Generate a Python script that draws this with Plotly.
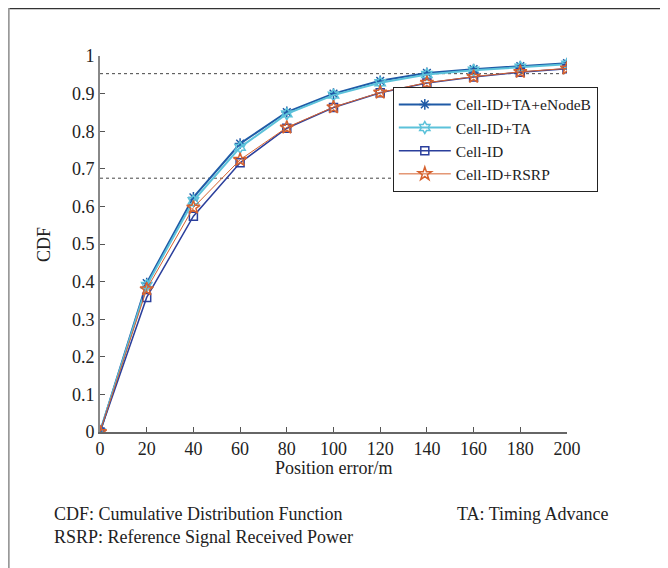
import plotly.graph_objects as go

# Data
position_error = [0, 20, 40, 60, 80, 100, 120, 140, 160, 180, 200]
cdf_ta_enodeb = [0, 0.396, 0.624, 0.767, 0.851, 0.900, 0.934, 0.955, 0.965, 0.973, 0.981]
cdf_ta = [0, 0.390, 0.615, 0.757, 0.846, 0.896, 0.929, 0.951, 0.962, 0.970, 0.978]
cdf_cellid = [0, 0.358, 0.574, 0.716, 0.808, 0.863, 0.902, 0.928, 0.944, 0.957, 0.966]
cdf_rsrp = [0, 0.380, 0.597, 0.724, 0.810, 0.864, 0.903, 0.929, 0.945, 0.958, 0.967]
ref_levels = [0.953, 0.675]
x_ticks = [0, 20, 40, 60, 80, 100, 120, 140, 160, 180, 200]
y_ticks = [0, 0.1, 0.2, 0.3, 0.4, 0.5, 0.6, 0.7, 0.8, 0.9, 1]
y_tick_labels = ["0", "0.1", "0.2", "0.3", "0.4", "0.5", "0.6", "0.7", "0.8", "0.9", "1"]

FONT = "Liberation Serif"

fig = go.Figure()

series = [
    ("Cell-ID+TA+eNodeB", cdf_ta_enodeb, "#1f5aa6", "asterisk-open", 2, 9),
    ("Cell-ID+TA", cdf_ta, "#5cc2da", "hexagram-open", 2, 9),
    ("Cell-ID", cdf_cellid, "#2b3f9c", "square-open", 1.5, 8),
    ("Cell-ID+RSRP", cdf_rsrp, "#d6622f", "star-open", 1, 10),
]
for name, ys, color, sym, lw, ms in series:
    fig.add_trace(go.Scatter(
        x=position_error, y=ys, name=name, mode="lines+markers",
        line=dict(color=color, width=lw),
        marker=dict(symbol=sym, size=ms, color=color, line=dict(color=color, width=1.5)),
    ))

for lv in ref_levels:
    fig.add_shape(type="line", xref="x", yref="y", x0=0, x1=200, y0=lv, y1=lv,
                  line=dict(color="#444444", width=1, dash="dot"), layer="below")

# outer frame (top and left)
fig.add_shape(type="line", xref="paper", yref="paper", x0=-0.197, x1=1.3, y0=1.126, y1=1.126,
              line=dict(color="#333333", width=1.5))
fig.add_shape(type="line", xref="paper", yref="paper", x0=-0.1955, x1=-0.1955, y0=1.128, y1=-0.4,
              line=dict(color="#999999", width=2))

fig.update_layout(
    width=660, height=560,
    margin=dict(l=92, r=101, t=48, b=136),
    paper_bgcolor="white", plot_bgcolor="white",
    font=dict(family=FONT, size=18, color="#222222"),
    showlegend=True,
    legend=dict(x=0.627, y=0.918, xanchor="left", yanchor="top",
                bgcolor="white", bordercolor="#222222", borderwidth=1,
                font=dict(family=FONT, size=15.5, color="#222222"),
                tracegroupgap=0, itemwidth=52),
    xaxis=dict(range=[0, 200], tickvals=x_ticks, ticks="inside", ticklen=5,
               tickcolor="#555555", showline=True, linecolor="#666666", linewidth=1.5,
               showgrid=False, zeroline=False, tickfont=dict(size=18)),
    yaxis=dict(range=[0, 1], tickvals=y_ticks, ticktext=y_tick_labels, ticks="inside",
               ticklen=5, tickcolor="#555555", showline=True, linecolor="#888888",
               linewidth=2, showgrid=False, zeroline=False, tickfont=dict(size=18)),
    annotations=[
        dict(text="Position error/m", xref="paper", yref="paper", x=0.5, y=-0.097,
             showarrow=False, xanchor="center", yanchor="middle", font=dict(size=18)),
        dict(text="CDF", xref="paper", yref="paper", x=-0.12, y=0.5, textangle=-90,
             showarrow=False, xanchor="center", yanchor="middle", font=dict(size=18)),
        dict(text="CDF: Cumulative Distribution Function", xref="paper", yref="paper",
             x=-0.103, y=-0.219, showarrow=False, xanchor="left", yanchor="middle",
             font=dict(size=18)),
        dict(text="RSRP: Reference Signal Received Power", xref="paper", yref="paper",
             x=-0.103, y=-0.280, showarrow=False, xanchor="left", yanchor="middle",
             font=dict(size=18)),
        dict(text="TA: Timing Advance", xref="paper", yref="paper",
             x=0.760, y=-0.219, showarrow=False, xanchor="left", yanchor="middle",
             font=dict(size=18)),
    ],
)

fig.write_html("out.html")
